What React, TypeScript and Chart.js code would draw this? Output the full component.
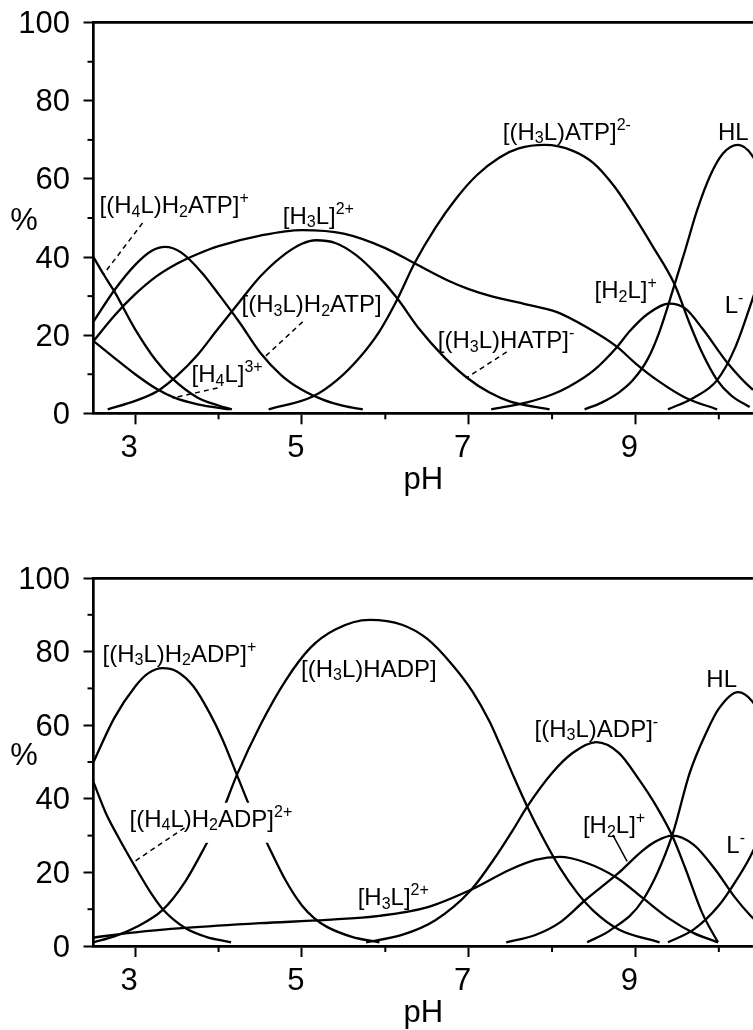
import React, { useEffect, useRef } from "react";
import { Chart, registerables } from "chart.js";

Chart.register(...registerables);

const FONT = '"Liberation Sans", Arial, Helvetica, sans-serif';

// ---------- axes ----------
const X_MIN = 2.5;
const X_MAX = 10.41;
const X_TICKS = [3, 5, 7, 9];
const X_MINOR = [4, 6, 8, 10];
const Y_TICKS = [0, 20, 40, 60, 80, 100];
const Y_MINOR = [10, 30, 50, 70, 90];
const X_TITLE = "pH";
const Y_TITLE = "%";

// ---------- ATP panel (top) ----------
const ATP_H4LH2ATP_PH = [2.5, 2.62, 2.75, 3.0, 3.25, 3.44, 3.75, 4.0, 4.16];
const ATP_H4LH2ATP_PCT = [40, 35.6, 31.2, 21.5, 13.5, 9, 4, 2, 1];

const ATP_H4L_PH = [2.5, 2.75, 3.0, 3.26, 3.47, 3.75, 4.13];
const ATP_H4L_PCT = [18.5, 14.2, 10.0, 6.2, 4.0, 2.3, 1];

const ATP_H3LH2ATP_PH = [2.5, 2.75, 3.0, 3.2, 3.36, 3.55, 3.8, 4.0, 4.25, 4.5, 4.75, 5.0, 5.25, 5.5, 5.73];
const ATP_H3LH2ATP_PCT = [23.5, 31.5, 38, 41.6, 42.6, 41.2, 36, 30.5, 23.3, 15.5, 9.8, 6, 3.5, 1.9, 1];

const ATP_H3LHATP_PH = [2.67, 3.0, 3.26, 3.5, 3.75, 3.97, 4.25, 4.5, 4.75, 5.0, 5.17, 5.4, 5.65, 5.9, 6.14, 6.41, 6.7, 6.98, 7.25, 7.5, 7.97];
const ATP_H3LHATP_PCT = [1, 3.2, 5.6, 9.6, 15, 21, 28.5, 35, 40, 43.4, 44.3, 43.6, 40.5, 35.5, 29.5, 21.5, 14.5, 9.1, 5.3, 3, 1];

const ATP_H3L_PH = [2.5, 2.75, 3.0, 3.25, 3.5, 3.75, 4.0, 4.5, 5.0, 5.5, 6.0, 6.35, 6.75, 7.0, 7.3, 7.65, 8.06, 8.4, 8.78, 9.0, 9.26, 9.6, 9.98];
const ATP_H3L_PCT = [18.5, 25, 30.5, 35, 38.3, 40.8, 42.8, 45.5, 46.9, 46, 42.3, 38.4, 34, 31.8, 29.8, 28.1, 25.9, 22.2, 17, 12.8, 8.5, 4, 1];

const ATP_H3LATP_PH = [4.6, 5.13, 5.42, 5.7, 5.93, 6.14, 6.35, 6.6, 6.85, 7.1, 7.37, 7.6, 7.91, 8.25, 8.5, 8.75, 8.97, 9.2, 9.47, 9.65, 9.8, 9.98, 10.15, 10.37];
const ATP_H3LATP_PCT = [1, 4.3, 8.5, 14.5, 21, 29, 38.4, 47.5, 55, 61, 65.5, 67.8, 68.7, 67.2, 64, 58, 51, 43, 33, 23, 15.5, 8.5, 4.5, 1.6];

const ATP_H2L_PH = [7.27, 7.7, 8.0, 8.2, 8.5, 8.78, 8.93, 9.15, 9.41, 9.6, 9.81, 10.1, 10.41, 10.7];
const ATP_H2L_PCT = [1, 2.8, 4.8, 6.8, 11, 17, 21, 25.5, 28.1, 26.8, 21.5, 13, 6, 2];

const ATP_HL_PH = [8.39, 8.6, 8.8, 8.97, 9.15, 9.29, 9.47, 9.6, 9.74, 9.9, 10.05, 10.23, 10.4, 10.6];
const ATP_HL_PCT = [1, 2.8, 5.3, 8.5, 14, 21, 33, 42, 52, 61, 66.5, 68.7, 66, 57];

const ATP_L_PH = [9.39, 9.7, 9.98, 10.2, 10.4, 10.6];
const ATP_L_PCT = [1, 4, 8.5, 17, 29, 42];

// ---------- ADP panel (bottom) ----------
const ADP_H3LH2ADP_PH = [2.5, 2.75, 3.0, 3.15, 3.33, 3.5, 3.7, 3.9, 4.05, 4.22, 4.4, 4.58, 4.8, 5.0, 5.15, 5.3, 5.6, 5.93];
const ADP_H3LH2ADP_PCT = [50, 62, 70.5, 74, 75.5, 74.6, 70.5, 63, 56, 46.5, 36.5, 28, 18, 11, 7.5, 5.2, 2.5, 1];

const ADP_H4LH2ADP_PH = [2.5, 2.65, 2.8, 3.0, 3.2, 3.33, 3.6, 3.85, 4.15];
const ADP_H4LH2ADP_PCT = [44.5, 36, 29.5, 21.5, 14, 10, 4.9, 2.5, 1];

const ADP_H3LHADP_PH = [2.5, 2.75, 3.0, 3.33, 3.6, 3.86, 4.0, 4.22, 4.5, 4.8, 5.1, 5.4, 5.81, 6.2, 6.5, 6.8, 7.05, 7.25, 7.37, 7.55, 7.7, 7.9, 8.1, 8.3, 8.5, 8.8, 9.29];
const ADP_H3LHADP_PCT = [1, 2.6, 5, 9.8, 17.5, 28, 34, 46.5, 60, 72, 81, 86, 88.6, 87.3, 83.5, 76.5, 69, 61, 55, 45.5, 38, 29, 21, 14.5, 9.5, 4.5, 1];

const ADP_H3LADP_PH = [5.77, 6.2, 6.6, 7.02, 7.3, 7.53, 7.7, 8.0, 8.25, 8.53, 8.8, 9.05, 9.25, 9.44, 9.6, 9.8, 9.99];
const ADP_H3LADP_PCT = [1, 3, 7, 15, 23.5, 31.5, 37.8, 47, 52.5, 55.4, 52.5, 45, 38, 30, 21, 9, 1];

const ADP_H3L_PH = [2.5, 3.0, 3.6, 4.5, 5.3, 5.93, 6.5, 7.02, 7.5, 7.8, 8.09, 8.4, 8.78, 9.09, 9.4, 9.7, 9.99];
const ADP_H3L_PCT = [2.3, 3.7, 4.9, 6.2, 7.1, 8.2, 10.5, 15.2, 20.8, 23.4, 24.2, 22.7, 18.5, 13, 7.5, 3.5, 1];

const ADP_H2L_PH = [7.45, 7.8, 8.1, 8.4, 8.78, 9.09, 9.25, 9.44, 9.7, 9.95, 10.2, 10.37, 10.6];
const ADP_H2L_PCT = [1, 3, 6.5, 12.5, 19.5, 26, 28.5, 30, 27.5, 21, 13, 8.5, 3.5];

const ADP_HL_PH = [8.42, 8.7, 9.09, 9.44, 9.65, 9.85, 10.0, 10.23, 10.4, 10.6];
const ADP_HL_PCT = [1, 4.3, 12.5, 30, 47, 58, 64.5, 69, 66.5, 58];

const ADP_L_PH = [9.39, 9.7, 10.0, 10.2, 10.37, 10.6];
const ADP_L_PCT = [1, 4.5, 11, 17.5, 24, 35];

// ---------- annotations (text parts: n = normal, b = subscript, p = superscript) ----------
type Part = [string, "n" | "b" | "p"];
interface Lbl { x: number; y: number; parts: Part[]; bg?: boolean }
interface Leader { x1: number; y1: number; x2: number; y2: number; dashed: boolean }

const ATP_LABELS: Lbl[] = [
  { x: 2.572, y: 51.2, parts: [["[(H", "n"], ["4", "b"], ["L)H", "n"], ["2", "b"], ["ATP]", "n"], ["+", "p"]] },
  { x: 4.77, y: 48.5, parts: [["[H", "n"], ["3", "b"], ["L]", "n"], ["2+", "p"]] },
  { x: 4.276, y: 25.9, parts: [["[(H", "n"], ["3", "b"], ["L)H", "n"], ["2", "b"], ["ATP]", "n"]] },
  { x: 3.676, y: 8.0, parts: [["[H", "n"], ["4", "b"], ["L]", "n"], ["3+", "p"]] },
  { x: 6.63, y: 16.7, parts: [["[(H", "n"], ["3", "b"], ["L)HATP]", "n"], ["-", "p"]] },
  { x: 7.41, y: 70.0, parts: [["[(H", "n"], ["3", "b"], ["L)ATP]", "n"], ["2-", "p"]] },
  { x: 9.99, y: 70.0, parts: [["HL", "n"]] },
  { x: 8.51, y: 29.5, parts: [["[H", "n"], ["2", "b"], ["L]", "n"], ["+", "p"]] },
  { x: 10.07, y: 25.7, parts: [["L", "n"], ["-", "p"]] },
];
const ATP_LEADERS: Leader[] = [
  { x1: 3.088, y1: 48.7, x2: 2.62, y2: 35.6, dashed: true },
  { x1: 5.008, y1: 23.4, x2: 4.552, y2: 14.4, dashed: true },
  { x1: 3.988, y1: 6.5, x2: 3.448, y2: 3.9, dashed: true },
  { x1: 7.456, y1: 15.7, x2: 6.976, y2: 9.1, dashed: true },
];

const ADP_LABELS: Lbl[] = [
  { x: 2.608, y: 77.3, parts: [["[(H", "n"], ["3", "b"], ["L)H", "n"], ["2", "b"], ["ADP]", "n"], ["+", "p"]] },
  { x: 4.99, y: 73.2, parts: [["[(H", "n"], ["3", "b"], ["L)HADP]", "n"]] },
  { x: 2.932, y: 32.4, parts: [["[(H", "n"], ["4", "b"], ["L)H", "n"], ["2", "b"], ["ADP]", "n"], ["2+", "p"]], bg: true },
  { x: 5.668, y: 11.1, parts: [["[H", "n"], ["3", "b"], ["L]", "n"], ["2+", "p"]] },
  { x: 7.79, y: 56.9, parts: [["[(H", "n"], ["3", "b"], ["L)ADP]", "n"], ["-", "p"]] },
  { x: 9.85, y: 70.5, parts: [["HL", "n"]] },
  { x: 8.37, y: 30.6, parts: [["[H", "n"], ["2", "b"], ["L]", "n"], ["+", "p"]] },
  { x: 10.09, y: 25.3, parts: [["L", "n"], ["-", "p"]] },
];
const ADP_LEADERS: Leader[] = [
  { x1: 3.592, y1: 32.1, x2: 2.968, y2: 22.6, dashed: true },
  { x1: 8.728, y1: 30.2, x2: 8.9, y2: 23.0, dashed: false },
];

const MAIN_FONT = `24px ${FONT}`;
const SMALL_FONT = `16px ${FONT}`;

const annotatePlugin = {
  id: "annotate",
  afterDatasetsDraw(chart: any, _args: any, opts: any) {
    const { ctx, chartArea, scales } = chart;
    const xs = scales.x;
    const ys = scales.y;
    ctx.save();
    ctx.fillStyle = "#000";
    ctx.strokeStyle = "#000";

    // labels
    ctx.textBaseline = "alphabetic";
    ctx.textAlign = "left";
    (opts.labels || []).forEach((l: Lbl) => {
      const px = xs.getPixelForValue(l.x);
      const py = ys.getPixelForValue(l.y);
      const widths = l.parts.map(([t, k]) => {
        ctx.font = k === "n" ? MAIN_FONT : SMALL_FONT;
        return ctx.measureText(t).width;
      });
      const total = widths.reduce((a: number, b: number) => a + b, 0);
      if (l.bg) {
        ctx.fillStyle = "#fff";
        ctx.fillRect(px - 3, py - 24, total + 6, 40);
        ctx.fillStyle = "#000";
      }
      let cx = px;
      l.parts.forEach(([t, k], i) => {
        ctx.font = k === "n" ? MAIN_FONT : SMALL_FONT;
        const dy = k === "b" ? 3.5 : k === "p" ? -10 : 0;
        ctx.fillText(t, cx, py + dy);
        cx += widths[i];
      });
    });

    // leader lines
    ctx.lineWidth = 1.5;
    (opts.leaders || []).forEach((l: Leader) => {
      ctx.setLineDash(l.dashed ? [5, 4] : []);
      ctx.beginPath();
      ctx.moveTo(xs.getPixelForValue(l.x1), ys.getPixelForValue(l.y1));
      ctx.lineTo(xs.getPixelForValue(l.x2), ys.getPixelForValue(l.y2));
      ctx.stroke();
    });
    ctx.setLineDash([]);

    // minor ticks
    ctx.lineWidth = 2;
    X_MINOR.forEach((v) => {
      const p = xs.getPixelForValue(v);
      ctx.beginPath();
      ctx.moveTo(p, chartArea.bottom);
      ctx.lineTo(p, chartArea.bottom + 6);
      ctx.stroke();
    });
    Y_MINOR.forEach((v) => {
      const p = ys.getPixelForValue(v);
      ctx.beginPath();
      ctx.moveTo(chartArea.left, p);
      ctx.lineTo(chartArea.left - 6, p);
      ctx.stroke();
    });

    // "%" axis caption (horizontal)
    ctx.font = `31px ${FONT}`;
    ctx.textAlign = "center";
    ctx.textBaseline = "middle";
    ctx.fillText(Y_TITLE, chartArea.left - 69.5, ys.getPixelForValue(opts.pctY));
    ctx.restore();
  },
};

const series = (xs: number[], ys: number[]) => ({
  data: xs.map((x, i) => ({ x, y: ys[i] })),
  borderColor: "#000",
  borderWidth: 2.3,
  pointRadius: 0,
  fill: false,
  cubicInterpolationMode: "monotone",
});

function makeConfig(
  sets: [number[], number[]][],
  labels: Lbl[],
  leaders: Leader[],
  padTop: number,
  axisH: number,
  titlePB: number,
  pctY: number
): any {
  return {
    type: "line",
    data: { datasets: sets.map(([a, b]) => series(a, b)) },
    plugins: [annotatePlugin],
    options: {
      animation: false,
      responsive: false,
      maintainAspectRatio: false,
      events: [],
      layout: { padding: { top: padTop, left: 0, right: 0, bottom: 0 } },
      plugins: {
        legend: { display: false },
        tooltip: { enabled: false },
        annotate: { labels, leaders, pctY },
      },
      scales: {
        x: {
          type: "linear",
          position: "bottom",
          min: X_MIN,
          max: X_MAX,
          afterBuildTicks: (s: any) => {
            s.ticks = X_TICKS.map((value) => ({ value }));
          },
          afterFit: (s: any) => {
            s.height = axisH;
            s.paddingLeft = 0;
            s.paddingRight = 0;
          },
          grid: { drawOnChartArea: false, drawTicks: true, tickLength: 11, tickWidth: 2, tickColor: "#000" },
          border: { display: true, color: "#000", width: 2.7 },
          ticks: {
            color: "#000",
            font: { family: FONT, size: 31 },
            padding: 5.4,
            labelOffset: -6,
            maxRotation: 0,
            autoSkip: false,
            includeBounds: false,
          },
          title: {
            display: true,
            text: X_TITLE,
            color: "#000",
            font: { family: FONT, size: 31 },
            padding: { top: 0, bottom: titlePB },
          },
        },
        x2: {
          type: "linear",
          position: "top",
          min: X_MIN,
          max: X_MAX,
          afterFit: (s: any) => {
            s.height = 0;
            s.paddingLeft = 0;
            s.paddingRight = 0;
          },
          grid: { display: false },
          ticks: { display: false },
          border: { display: true, color: "#000", width: 2.7 },
        },
        y: {
          type: "linear",
          min: 0,
          max: 100,
          afterBuildTicks: (s: any) => {
            s.ticks = Y_TICKS.map((value) => ({ value }));
          },
          afterFit: (s: any) => {
            s.width = 93.5;
            s.paddingTop = 0;
            s.paddingBottom = 0;
          },
          grid: { drawOnChartArea: false, drawTicks: true, tickLength: 10, tickWidth: 2, tickColor: "#000" },
          border: { display: true, color: "#000", width: 2.7 },
          ticks: {
            color: "#000",
            font: { family: FONT, size: 31 },
            padding: 13.5,
            labelOffset: 2,
            autoSkip: false,
            includeBounds: false,
          },
        },
      },
    },
  };
}

export default function App() {
  const topRef = useRef<HTMLCanvasElement | null>(null);
  const botRef = useRef<HTMLCanvasElement | null>(null);

  useEffect(() => {
    const top = new Chart(
      topRef.current as HTMLCanvasElement,
      makeConfig(
        [
          [ATP_H4LH2ATP_PH, ATP_H4LH2ATP_PCT],
          [ATP_H4L_PH, ATP_H4L_PCT],
          [ATP_H3LH2ATP_PH, ATP_H3LH2ATP_PCT],
          [ATP_H3LHATP_PH, ATP_H3LHATP_PCT],
          [ATP_H3L_PH, ATP_H3L_PCT],
          [ATP_H3LATP_PH, ATP_H3LATP_PCT],
          [ATP_H2L_PH, ATP_H2L_PCT],
          [ATP_HL_PH, ATP_HL_PCT],
          [ATP_L_PH, ATP_L_PCT],
        ],
        ATP_LABELS,
        ATP_LEADERS,
        22.7,
        116.7,
        30.6,
        49.0
      )
    );
    const bot = new Chart(
      botRef.current as HTMLCanvasElement,
      makeConfig(
        [
          [ADP_H3LH2ADP_PH, ADP_H3LH2ADP_PCT],
          [ADP_H4LH2ADP_PH, ADP_H4LH2ADP_PCT],
          [ADP_H3LHADP_PH, ADP_H3LHADP_PCT],
          [ADP_H3LADP_PH, ADP_H3LADP_PCT],
          [ADP_H3L_PH, ADP_H3L_PCT],
          [ADP_H2L_PH, ADP_H2L_PCT],
          [ADP_HL_PH, ADP_HL_PCT],
          [ADP_L_PH, ADP_L_PCT],
        ],
        ADP_LABELS,
        ADP_LEADERS,
        48,
        114,
        27.9,
        51.4
      )
    );
    return () => {
      top.destroy();
      bot.destroy();
    };
  }, []);

  return (
    <div
      style={{
        position: "absolute",
        left: 0,
        top: 0,
        width: 753,
        height: 1030,
        overflow: "hidden",
        background: "#fff",
      }}
    >
      <canvas ref={topRef} width={753} height={530} style={{ position: "absolute", left: 0, top: 0 }} />
      <canvas ref={botRef} width={753} height={530} style={{ position: "absolute", left: 0, top: 530 }} />
    </div>
  );
}
